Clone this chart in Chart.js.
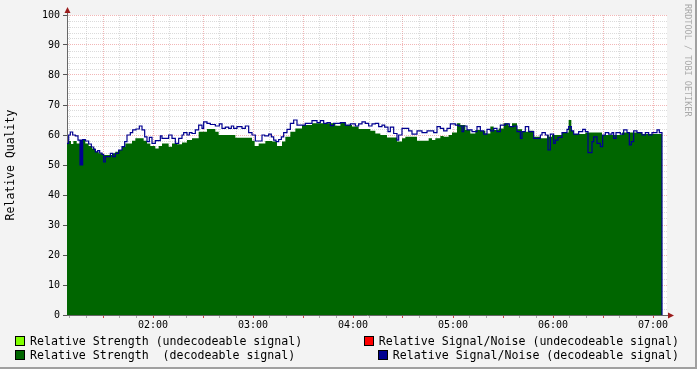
<!DOCTYPE html>
<html>
<head>
<meta charset="utf-8">
<script src="https://cdn.jsdelivr.net/npm/chart.js@4/dist/chart.umd.min.js"></script>
<style>
  body { margin: 0; background: #f3f3f3; }
  #wrap { position: relative; width: 697px; height: 369px; box-sizing: border-box;
          border-right: 2px solid #a0a0a0; border-bottom: 2px solid #a0a0a0; overflow: hidden; }
  #box { position: absolute; left: 0; top: 0; width: 697px; height: 369px; }
  .leg { position: absolute; font: 11.6px "DejaVu Sans Mono", monospace; white-space: pre; color: #000; line-height: 14px; }
  .leg i { display: inline-block; width: 8px; height: 8px; border: 1px solid #000; margin-right: 5px; vertical-align: -1px; }
  #mark { position: absolute; left: 683px; top: 4px; writing-mode: vertical-rl; font: 8.5px "DejaVu Sans Mono", monospace; color: #aaa; }
</style>
</head>
<body>
<div id="wrap">
  <div id="box"><canvas id="myChart"></canvas></div>
  <div class="leg" style="left:15px;top:334px"><i style="background:#80ff00"></i>Relative Strength (undecodeable signal)</div>
  <div class="leg" style="left:15px;top:348px"><i style="background:#006600"></i>Relative Strength  (decodeable signal)</div>
  <div class="leg" style="right:16px;top:334px"><i style="background:#ff0000"></i>Relative Signal/Noise (undecodeable signal)</div>
  <div class="leg" style="right:16px;top:348px"><i style="background:#000090"></i>Relative Signal/Noise (decodeable signal)</div>
  <div id="mark">RRDTOOL / TOBI OETIKER</div>
</div>
<script>
// time in minutes after midnight, value in %
var strTimes = [68.4,69.4,70.8,72.2,74.2,77.4,79.4,81.4,83.4,85.4,87.4,89.8,95.4,97.4,99.4,101.4,103.4,107.4,109.4,114.4,
  116.4,118.4,121.4,123.4,125.4,129.4,131.4,134.4,137.4,140.4,143.4,147.4,152.4,157.4,159.4,169.4,179.4,181,183.4,187.4,
  191.4,194.4,197.4,199.4,202.4,205.4,209.4,215.4,229.4,232.4,235.4,239.4,243.4,250.4,253.4,256.4,260.4,266.4,269.4,271.4,
  278.4,285.4,287.4,289.4,292.4,294.4,297.4,299.4,302.4,304.4,307.4,310.4,313.4,316.4,319.4,322.4,324.4,327.4,330.4,333.4,
  335.4,338.4,341.4,345.4,348.4,352.4,356.4,357.4,359.4,365.4,369.4,371,372.4,379.4,389.4,401.4,413.4,425.4];
var strValues = [57.2,58,57,58,57.2,58.3,57.2,56.3,55.5,54.4,53.9,53.3,53.9,54.4,55,56.1,57.2,58.1,58.9,58.1,
  57.2,56.3,55.5,56.3,57.2,56.1,57.2,56.9,57.5,58.3,58.9,61.1,62,61.1,60,59.1,58.1,56.3,57.2,58,
  57.8,56.3,57.8,59.4,61.1,62.2,63.3,63.9,63.1,64.1,63.3,62.8,62,61.4,60.5,60,59.2,57.8,58.9,59.4,
  58.1,58.9,58.3,58.9,59.7,59.4,60,60.8,63.9,63.3,61.7,60.5,61.7,61.4,60.5,62.8,61.7,62.2,63.9,63,
  63.9,61.9,61.1,61.4,59.4,58.9,60,59.4,60,60.8,65,61.4,60.3,60.8,60,60.8,60.3,0];

var snTimes = [68.4,69.4,70.4,71.8,73.4,75,76.2,76.8,77.2,77.8,79.4,81.4,83,84.4,85.4,86.8,88,89.4,90.4,91.4,
  94.4,95.8,97.4,99.4,101.4,103,104.4,106.4,107.8,109.8,111.8,113.4,115,116.4,117.8,119.4,121.4,124.4,125.4,129.4,
  131.4,133.4,135.4,137.4,138.4,140.4,141.8,143.4,145.4,147.4,149.4,150.4,152.4,154.4,157.4,159.8,161.4,163.4,165.4,167,
  168.4,170.4,173.4,175.4,177.4,179.4,181.4,185.4,187,189.4,191,192.4,193.8,195.4,197,198.4,200.4,202.4,204.4,206.4,
  209.4,211.4,215.4,218.4,220.4,222.4,224.4,226.4,228.4,232.4,235.4,238.4,241.4,243.4,245.4,247.4,249.4,251.4,253.4,255.4,
  257.4,259,261,262.4,264.4,266.4,267.4,269.4,273.4,275.4,278.4,281.4,284.4,288.4,290.4,292.4,294.4,296.4,298.4,301.4,
  303.4,305.4,306.4,308.4,311.4,314.4,316.4,318.4,320.4,322.4,324.4,326.4,328.4,331.4,333.8,336.4,338.4,340.4,341.4,343.4,
  345.4,348.4,352.4,353.4,355.4,357,358.4,360.4,361.4,363,365.4,368.4,369.4,371,372.4,375.4,377.8,379.4,381,383.4,
  384.4,386.4,388.4,389.8,391.4,393.4,395.4,396.4,397.8,400.4,402.4,404.4,405.8,407,408.4,410.4,413.4,415.4,417.4,419.4,
  422.4,423.8,425.4];
var snValues = [57.2,60,61,60,59.7,58.3,50,58.3,50,58.5,58,57,56,55.2,54.4,54.8,54,53.5,51,52.8,
  53.9,52.8,53.9,55,56.1,57.8,60,60.8,61.7,62,63,61.7,59.4,57.8,59.2,57.2,58.1,59.7,58.9,60,
  58.9,57.2,58.9,60,60.8,60,60.8,60.5,61.7,63.3,62.2,64.4,63.9,63.5,63,63.7,62.2,62.6,62.2,63,
  62.2,62.8,62.2,63,60.8,60,58,60,59.7,60.3,59.4,58.3,57.8,58.5,59.4,60.8,61.9,63.9,65,63.3,
  63.3,63.9,64.8,64.1,64.8,63.9,64.1,63.1,63.9,64.1,63.3,63.7,63,63.7,64.4,63.9,63,63.7,63.9,62.8,
  63.3,62.6,61.1,62.6,60.5,58.3,60,62.2,61.4,60.3,61.4,60.8,61.4,60.8,62.8,62.2,61.4,62.2,63.7,63.3,
  63,61.1,63,61.7,61.1,62.8,61.4,60.3,61.9,61.4,62.2,61.1,63.3,63.7,62.8,63,61.1,58.9,61.1,62.8,
  61.1,58.9,60,60.8,60,55,60.3,57.2,58.3,59.2,60.8,61.9,62.8,61.4,60.3,61.1,61.9,61.1,54.1,57.8,
  59.4,57.2,56.1,60,60.8,60.3,60.8,58.9,60.8,60.3,61.7,60.8,56.7,57.8,61.4,60.8,60,60.8,60,60.8,
  61.7,60.8,0];

var xMin = 68.4, xMax = 428.4;
var hourLabels = ['02:00', '03:00', '04:00', '05:00', '06:00', '07:00'];

function pts(t, v) {
    return t.map(function (x, i) { return {x: x, y: v[i]}; });
}

var minorGrid = 'rgba(165,165,165,0.4)';
var majorGrid = 'rgba(230,110,110,0.5)';
var monoFont = '"DejaVu Sans Mono", monospace';

var rrdFrame = {
    id: 'rrdFrame',
    beforeDraw: function (chart) {
        var a = chart.chartArea, ctx = chart.ctx;
        ctx.save();
        ctx.fillStyle = '#ffffff';
        ctx.fillRect(a.left, a.top, a.right - a.left, a.bottom - a.top);
        ctx.restore();
    },
    afterDraw: function (chart) {
        var a = chart.chartArea, ctx = chart.ctx;
        ctx.save();
        ctx.strokeStyle = '#666';
        ctx.lineWidth = 1;
        ctx.beginPath();
        ctx.moveTo(a.left + 0.5, a.top);
        ctx.lineTo(a.left + 0.5, a.top - 3);
        ctx.moveTo(a.right, a.bottom + 0.5);
        ctx.lineTo(a.right + 3, a.bottom + 0.5);
        ctx.stroke();
        ctx.fillStyle = '#9b1c1c';
        ctx.beginPath();
        ctx.moveTo(a.left - 2.5, a.top - 2);
        ctx.lineTo(a.left + 3.5, a.top - 2);
        ctx.lineTo(a.left + 0.5, a.top - 8);
        ctx.closePath();
        ctx.fill();
        ctx.beginPath();
        ctx.moveTo(a.right + 1, a.bottom - 2.5);
        ctx.lineTo(a.right + 1, a.bottom + 3.5);
        ctx.lineTo(a.right + 7, a.bottom + 0.5);
        ctx.closePath();
        ctx.fill();
        ctx.restore();
    }
};

const ctx = document.getElementById('myChart');
var chart = new Chart(ctx, {
    type: 'line',
    data: {
        datasets: [
            {
                label: 'Relative Signal/Noise (decodeable signal)',
                data: pts(snTimes, snValues),
                borderColor: '#000090',
                borderWidth: 1.2,
                stepped: true,
                pointRadius: 0,
                fill: false,
                order: 0
            },
            {
                label: 'Relative Strength  (decodeable signal)',
                data: pts(strTimes, strValues),
                borderColor: '#006600',
                backgroundColor: '#006600',
                borderWidth: 0,
                stepped: true,
                pointRadius: 0,
                fill: 'origin',
                order: 1
            }
        ]
    },
    options: {
        responsive: true,
        maintainAspectRatio: false,
        animation: false,
        layout: { padding: { left: 0, top: 15, right: 30, bottom: 34 } },
        scales: {
            x: {
                type: 'linear',
                min: xMin,
                max: xMax,
                z: 1,
                afterFit: function (s) { s.height = 20; },
                // grid every 10 minutes, labels on the hour
                afterBuildTicks: function (s) {
                    var t = [];
                    for (var v = 70; v <= 420; v += 10) t.push({value: v});
                    s.ticks = t;
                },
                grid: {
                    color: function (c) { return c.tick && c.tick.value % 30 === 0 ? majorGrid : minorGrid; },
                    tickColor: function (c) { return c.tick && c.tick.value % 30 === 0 ? '#d04040' : '#aaa'; },
                    tickLength: 3
                },
                border: { color: '#666', width: 1, dash: [1, 1] },
                ticks: {
                    autoSkip: false,
                    maxRotation: 0,
                    padding: 1,
                    color: '#000',
                    font: { family: monoFont, size: 10 },
                    callback: function (v) {
                        if (v % 60 !== 0) return '';
                        return hourLabels[v / 60 - 2];
                    }
                }
            },
            y: {
                min: 0,
                max: 100,
                z: 1,
                afterFit: function (s) { s.width = 67; },
                grid: {
                    color: function (c) { return c.tick && c.tick.value % 10 === 0 ? majorGrid : minorGrid; },
                    tickColor: function (c) { return c.tick && c.tick.value % 10 === 0 ? '#555' : 'rgba(0,0,0,0)'; },
                    tickLength: 4
                },
                border: { color: '#666', width: 1, dash: [1, 1] },
                ticks: {
                    stepSize: 2,
                    autoSkip: false,
                    padding: 3,
                    color: '#000',
                    font: { family: monoFont, size: 10 },
                    callback: function (v) { return v % 10 === 0 ? String(v) : ''; }
                },
                title: {
                    display: true,
                    text: 'Relative Quality',
                    color: '#000',
                    font: { family: monoFont, size: 11.5 }
                }
            }
        },
        plugins: {
            legend: { display: false },
            tooltip: { enabled: false }
        }
    },
    plugins: [rrdFrame]
});
</script>
</body>
</html>
